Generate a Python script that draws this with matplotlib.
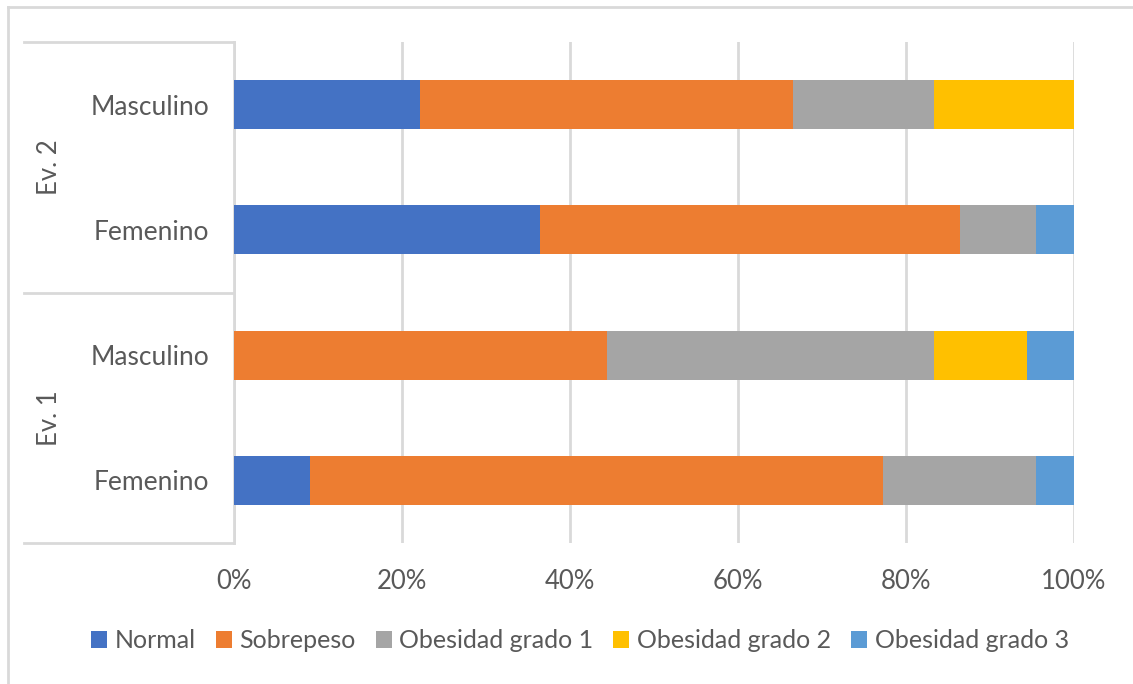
import numpy as np
import matplotlib.pyplot as plt
from matplotlib.lines import Line2D
from matplotlib.transforms import blended_transform_factory

plt.rcParams['font.family'] = ['Lato', 'DejaVu Sans']

# bars from bottom to top
sexo = ['Femenino', 'Masculino', 'Femenino', 'Masculino']
evaluacion = ['Ev. 1', 'Ev. 2']
categorias = ['Normal', 'Sobrepeso', 'Obesidad grado 1', 'Obesidad grado 2', 'Obesidad grado 3']

normal = [9.1, 0.0, 36.4, 22.2]
sobrepeso = [68.2, 44.4, 50.0, 44.4]
obesidad1 = [18.2, 38.9, 9.1, 16.7]
obesidad2 = [0.0, 11.1, 0.0, 16.7]
obesidad3 = [4.5, 5.6, 4.5, 0.0]

colores = ['#4472C4', '#ED7D31', '#A5A5A5', '#FFC000', '#5B9BD5']
gris = '#D9D9D9'
texto = '#595959'

W, H = 1133, 684
fig = plt.figure(figsize=(W / 100, H / 100), dpi=100)
ax = fig.add_axes([234 / W, 1 - 543 / H, 840 / W, 501 / H])

series = np.array([normal, sobrepeso, obesidad1, obesidad2, obesidad3])
y = np.arange(len(sexo))
izq = np.zeros(len(sexo))
for vals, nombre, c in zip(series, categorias, colores):
    ax.barh(y, vals, left=izq, height=0.39, color=c, label=nombre, zorder=3)
    izq += vals

ax.set_xlim(0, 100)
ax.set_ylim(-0.5, 3.5)
ax.set_xticks(np.arange(0, 101, 20))
ax.set_xticklabels([f'{t}%' for t in range(0, 101, 20)])
ax.set_yticks(y)
ax.set_yticklabels(sexo)
ax.tick_params(axis='both', length=0, labelsize=18.5, colors=texto)
ax.tick_params(axis='y', labelsize=19, pad=18)
ax.tick_params(axis='x', pad=19)
ax.grid(axis='x', color=gris, linewidth=2, zorder=0)
for s in ['top', 'right', 'bottom']:
    ax.spines[s].set_visible(False)
ax.spines['left'].set_color(gris)
ax.spines['left'].set_linewidth(2)

# group separators and labels of the two-level category axis
tr = blended_transform_factory(ax.transAxes, ax.transData)
for yy in [-0.5, 1.5, 3.5]:
    ax.plot([-0.25, 0], [yy, yy], color=gris, linewidth=2,
            transform=tr, clip_on=False)
for i, ev in enumerate(evaluacion):
    ax.text(-0.22, 2 * i + 0.5, ev, rotation=90, ha='center', va='center',
            fontsize=18.5, color=texto, transform=tr)

# chart border
fig.add_artist(Line2D([8 / W, 1], [1 - 7 / H, 1 - 7 / H], color=gris, linewidth=2))
fig.add_artist(Line2D([8 / W, 8 / W], [0, 1 - 7 / H], color=gris, linewidth=2))

fig.legend(loc='center', bbox_to_anchor=(580 / W, 1 - 641 / H), ncol=5,
           frameon=False, fontsize=18, labelcolor=texto,
           handlelength=0.64, handleheight=0.64, handletextpad=0.3,
           columnspacing=0.8)

fig.savefig('out.png', dpi=100)
